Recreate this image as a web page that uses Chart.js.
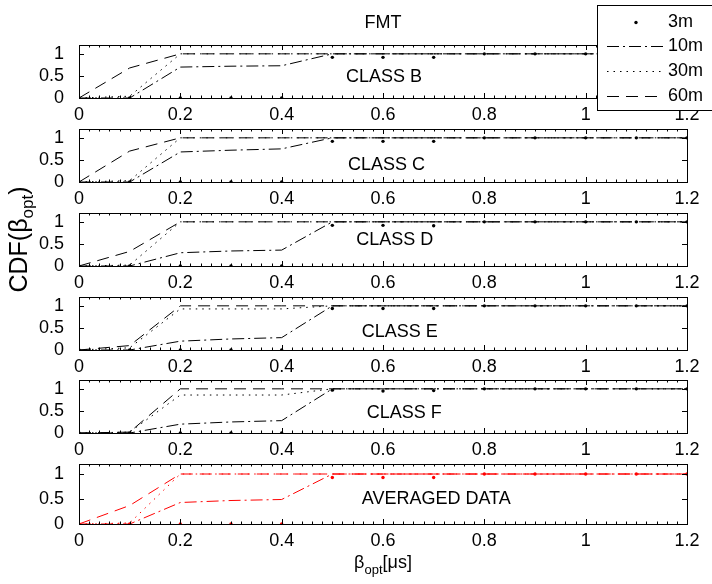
<!DOCTYPE html>
<html>
<head>
<meta charset="utf-8">
<script src="https://cdn.jsdelivr.net/npm/chart.js@4"></script>
<style>
  html, body { margin: 0; padding: 0; background: #fff; }
  #fig { position: relative; width: 712px; height: 584px; overflow: hidden; }
  #fig canvas { position: absolute; left: 0; }
</style>
</head>
<body>
<div id="fig"></div>
<script>
// x values (beta_opt in us) and the four distances
const betaOpt = [0, 0.1, 0.2, 0.3, 0.4, 0.5, 0.6, 0.7, 0.8, 0.9, 1, 1.1, 1.2];
const seriesNames = ['3m', '10m', '30m', '60m'];
const panelNames = ['CLASS B', 'CLASS C', 'CLASS D', 'CLASS E', 'CLASS F', 'AVERAGED DATA'];
const xTicks = [0, 0.2, 0.4, 0.6, 0.8, 1, 1.2];
const yTicks = [0, 0.5, 1];

// rows: 3m, 10m, 30m, 60m
const cdfClassB = [
  [0, 0, 0, 0, 0, 0.92, 0.92, 0.92, 1, 1, 1, 1, 1],
  [0, 0, 0.7, 0.72, 0.73, 1, 1, 1, 1, 1, 1, 1, 1],
  [0, 0.04, 1, 1, 1, 1, 1, 1, 1, 1, 1, 1, 1],
  [0, 0.68, 1, 1, 1, 1, 1, 1, 1, 1, 1, 1, 1]
];
const cdfClassC = [
  [0, 0, 0, 0, 0, 0.92, 0.92, 0.92, 1, 1, 1, 1, 1],
  [0, 0, 0.68, 0.72, 0.75, 1, 1, 1, 1, 1, 1, 1, 1],
  [0, 0.03, 1, 1, 1, 1, 1, 1, 1, 1, 1, 1, 1],
  [0, 0.7, 1, 1, 1, 1, 1, 1, 1, 1, 1, 1, 1]
];
const cdfClassD = [
  [0, 0, 0, 0, 0, 0.92, 0.92, 0.91, 1, 1, 1, 1, 1],
  [0, 0, 0.3, 0.34, 0.36, 1, 1, 1, 1, 1, 1, 1, 1],
  [0, 0.02, 1, 1, 1, 1, 1, 1, 1, 1, 1, 1, 1],
  [0, 0.33, 1, 1, 1, 1, 1, 1, 1, 1, 1, 1, 1]
];
const cdfClassE = [
  [0, 0, 0, 0, 0, 0.94, 0.94, 0.94, 1, 1, 1, 1, 1],
  [0, 0, 0.2, 0.25, 0.28, 1, 1, 1, 1, 1, 1, 1, 1],
  [0, 0.05, 0.93, 0.93, 0.93, 1, 1, 1, 1, 1, 1, 1, 1],
  [0, 0.1, 1, 1, 1, 1, 1, 1, 1, 1, 1, 1, 1]
];
const cdfClassF = [
  [0, 0, 0, 0, 0, 0.97, 0.95, 0.96, 1, 1, 1, 1, 1],
  [0, 0, 0.2, 0.25, 0.28, 1, 1, 1, 1, 1, 1, 1, 1],
  [0, 0.02, 0.86, 0.86, 0.86, 1, 1, 1, 1, 1, 1, 1, 1],
  [0, 0.02, 1, 1, 1, 1, 1, 1, 1, 1, 1, 1, 1]
];
const cdfAveraged = [
  [0, 0, 0, 0, 0, 0.93, 0.93, 0.93, 1, 1, 1, 1, 1],
  [0, 0, 0.43, 0.47, 0.49, 1, 1, 1, 1, 1, 1, 1, 1],
  [0, 0.02, 1, 1, 1, 1, 1, 1, 1, 1, 1, 1, 1],
  [0, 0.37, 1, 1, 1, 1, 1, 1, 1, 1, 1, 1, 1]
];

// layout
const FONT = "'Liberation Sans', Arial, Helvetica, sans-serif";
const plotLeft = 79, plotRight = 687;
const panelTop = [45, 129, 213, 297, 380, 464];
const panelH = [53, 53, 53, 53, 53, 60];
const labelAt = [[0.527, 0.48], [0.531, 0.39], [0.547, 0.59], [0.558, 0.4], [0.568, 0.45], [0.558, 0.49]];
const lineStyles = [
  { showLine: false, pointRadius: 1.7, borderDash: [] },
  { showLine: true, pointRadius: 0, borderDash: [12, 4, 2, 4] },
  { showLine: true, pointRadius: 0, borderDash: [1.5, 5] },
  { showLine: true, pointRadius: 0, borderDash: [12, 7] }
];

// draw text made of [text, size, dy] parts, centred on (cx, cy)
function drawRich(ctx, parts, cx, cy) {
  let total = 0;
  parts.forEach(p => { ctx.font = p[1] + 'px ' + FONT; total += ctx.measureText(p[0]).width; });
  let px = cx - total / 2;
  ctx.textAlign = 'left';
  ctx.textBaseline = 'middle';
  parts.forEach(p => {
    ctx.font = p[1] + 'px ' + FONT;
    ctx.fillText(p[0], px, cy + p[2]);
    px += ctx.measureText(p[0]).width;
  });
}

const panelDecor = {
  id: 'panelDecor',
  afterDraw(chart, args, opts) {
    const { ctx, chartArea: a, scales: { x, y } } = chart;
    ctx.save();
    ctx.strokeStyle = '#000';
    ctx.fillStyle = '#000';
    ctx.lineWidth = 1;
    ctx.setLineDash([]);
    ctx.strokeRect(a.left + 0.5, a.top + 0.5, a.right - a.left, a.bottom - a.top);

    // inside ticks, minor every 0.02
    ctx.beginPath();
    const nMinor = Math.round(xTicks[xTicks.length - 1] / 0.02);
    for (let k = 0; k <= nMinor; k++) {
      const px = Math.round(x.getPixelForValue(k * 0.02)) + 0.5;
      const len = k % 10 === 0 ? 5 : 2.5;
      ctx.moveTo(px, a.bottom); ctx.lineTo(px, a.bottom - len);
      ctx.moveTo(px, a.top); ctx.lineTo(px, a.top + len);
    }
    yTicks.forEach(v => {
      const py = Math.round(y.getPixelForValue(v)) + 0.5;
      ctx.moveTo(a.left, py); ctx.lineTo(a.left + 5, py);
      ctx.moveTo(a.right, py); ctx.lineTo(a.right - 5, py);
    });
    ctx.stroke();

    // panel name
    ctx.font = '18px ' + FONT;
    ctx.textAlign = 'left';
    ctx.textBaseline = 'middle';
    ctx.fillText(opts.label, x.getPixelForValue(opts.at[0]), y.getPixelForValue(opts.at[1]));

    if (opts.title) {
      ctx.textAlign = 'center';
      ctx.fillText(opts.title, (a.left + a.right) / 2, 23);
    }
    if (opts.xlabel) {
      drawRich(ctx, [['\u03b2', 18, 0], ['opt', 13, 7], ['[\u03bcs]', 18, 0]], (a.left + a.right) / 2, a.bottom + 39);
    }
    if (opts.ylabel) {
      ctx.save();
      ctx.translate(20, (a.top + a.bottom) / 2);
      ctx.rotate(-Math.PI / 2);
      drawRich(ctx, [['CDF(\u03b2', 25, 0], ['opt', 17, 8], [')', 25, 0]], 0, 0);
      ctx.restore();
    }
    if (opts.legend) {
      ctx.fillStyle = '#fff';
      ctx.fillRect(597, 5, 130, 105);
      ctx.strokeRect(597.5, 5.5, 130, 105);
      ctx.fillStyle = '#000';
      ctx.font = '18px ' + FONT;
      ctx.textAlign = 'left';
      ctx.textBaseline = 'middle';
      chart.data.datasets.forEach((ds, j) => {
        const ly = Math.round(21.7 + j * 24.7) + 0.5;
        if (ds.showLine === false) {
          ctx.beginPath();
          ctx.arc(636, ly, 1.7, 0, Math.PI * 2);
          ctx.fill();
        } else {
          ctx.setLineDash(ds.borderDash);
          ctx.beginPath();
          ctx.moveTo(607, ly); ctx.lineTo(663, ly);
          ctx.stroke();
          ctx.setLineDash([]);
        }
        ctx.fillText(ds.label, 668, ly);
      });
    }
    ctx.restore();
  }
};

const fig = document.getElementById('fig');
const panels = [cdfClassB, cdfClassC, cdfClassD, cdfClassE, cdfClassF, cdfAveraged];

panels.forEach((rows, i) => {
  const last = i === panels.length - 1;
  const cTop = i === 0 ? 0 : panelTop[i] - 30;
  const padTop = panelTop[i] - cTop;
  const cH = last ? 584 - cTop : padTop + panelH[i] + 32;
  const color = last ? '#ff0000' : '#000000';

  const canvas = document.createElement('canvas');
  canvas.width = 712;
  canvas.height = cH;
  canvas.style.top = cTop + 'px';
  fig.appendChild(canvas);

  const datasets = rows.map((vals, j) => ({
    label: seriesNames[j],
    data: vals.map((v, k) => ({ x: betaOpt[k], y: v })),
    borderColor: color,
    backgroundColor: color,
    pointBackgroundColor: color,
    pointBorderWidth: 0,
    borderWidth: 1,
    tension: 0,
    fill: false,
    ...lineStyles[j]
  }));

  new Chart(canvas, {
    type: 'line',
    data: { datasets },
    plugins: [panelDecor],
    options: {
      responsive: false,
      animation: false,
      devicePixelRatio: 1,
      layout: { padding: { top: padTop, left: 0, right: 712 - plotRight, bottom: 0 } },
      plugins: {
        legend: { display: false },
        tooltip: { enabled: false },
        panelDecor: {
          label: panelNames[i],
          at: labelAt[i],
          title: i === 0 ? 'FMT' : null,
          legend: i === 0,
          ylabel: i === 2,
          xlabel: last
        }
      },
      scales: {
        x: {
          type: 'linear',
          min: 0,
          max: 1.2,
          grid: { display: false },
          border: { display: false },
          afterBuildTicks: s => { s.ticks = xTicks.map(v => ({ value: v })); },
          afterFit: s => { s.height = cH - padTop - panelH[i]; },
          ticks: {
            font: { family: FONT, size: 18 },
            color: '#000',
            padding: -2,
            maxRotation: 0,
            autoSkip: false,
            callback: v => String(v)
          }
        },
        y: {
          min: 0,
          max: 1.2,
          grid: { display: false },
          border: { display: false },
          afterBuildTicks: s => { s.ticks = yTicks.map(v => ({ value: v })); },
          afterFit: s => { s.width = plotLeft; },
          ticks: {
            font: { family: FONT, size: 18 },
            color: '#000',
            padding: 7,
            callback: v => String(v)
          }
        }
      }
    }
  });
});
</script>
</body>
</html>
